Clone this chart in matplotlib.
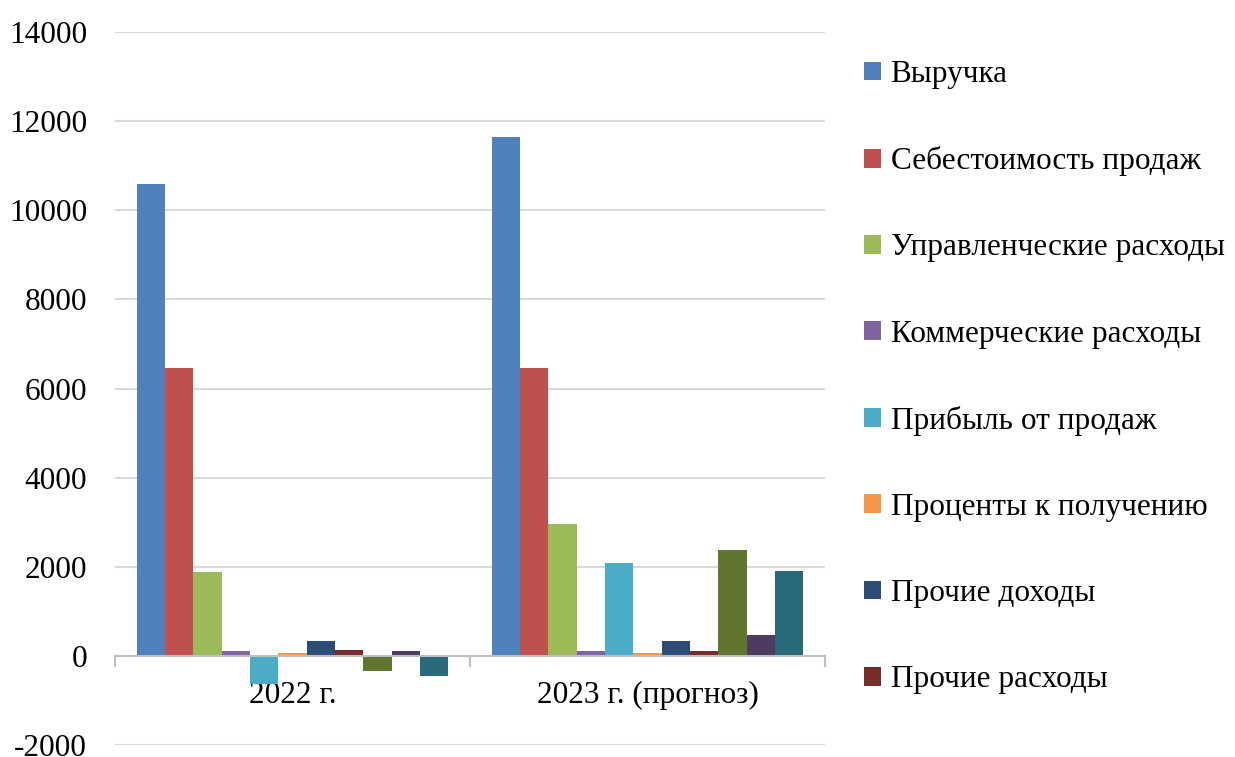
import numpy as np
import matplotlib.pyplot as plt
from matplotlib.patches import Patch

plt.rcParams['font.family'] = ['Liberation Serif', 'DejaVu Serif']
plt.rcParams['axes.unicode_minus'] = False

categories = ["2022 г.", "2023 г. (прогноз)"]
series_names = [
    "Выручка",
    "Себестоимость продаж",
    "Управленческие расходы",
    "Коммерческие расходы",
    "Прибыль от продаж",
    "Проценты к получению",
    "Прочие доходы",
    "Прочие расходы",
    "Прибыль до налогообложения",
    "Налог на прибыль",
    "Чистая прибыль",
]
values_2022 = [10600, 6450, 1880, 120, -620, 70, 340, 130, -330, 100, -450]
values_2023 = [11650, 6450, 2950, 100, 2090, 60, 330, 120, 2370, 460, 1900]
colors = ["#4F81BD", "#C0504D", "#9BBB59", "#8064A2", "#4BACC6", "#F79646",
          "#2C4D75", "#772C2A", "#5F7530", "#4D3B62", "#276A7C"]
legend_shown = 8  # only the first 8 series fit in the legend

W, H = 1235, 757
fig = plt.figure(figsize=(W / 100, H / 100), dpi=100)
ax = fig.add_axes([115 / W, 1 - 745 / H, 710 / W, 713 / H])

n = len(series_names)
gap = 1.55
bw = 1.0 / (n + gap)
x = np.arange(len(categories))
data = np.array([values_2022, values_2023])
for i in range(n):
    offs = (i - (n - 1) / 2) * bw
    ax.bar(x + offs, data[:, i], width=bw, color=colors[i], label=series_names[i], zorder=3)

ax.set_xlim(-0.5, len(categories) - 0.5)
ax.set_ylim(-2000, 14000)
ax.set_yticks(np.arange(-2000, 14001, 2000))
ax.yaxis.grid(True, color="#D9D9D9", linewidth=1.5, zorder=0)
ax.tick_params(axis='y', length=0, pad=20, labelsize=22.5)

for s in ['top', 'right', 'left']:
    ax.spines[s].set_visible(False)
ax.spines['bottom'].set_position(('data', 0))
ax.spines['bottom'].set_color("#BFBFBF")
ax.spines['bottom'].set_linewidth(1.5)
ax.spines['bottom'].set_zorder(4)

# category boundary ticks, labels at the centres
ax.set_xticks(np.arange(-0.5, len(categories), 1.0))
ax.set_xticklabels([])
ax.tick_params(axis='x', which='major', length=8, width=1.5, color="#BFBFBF", direction='out')
ax.set_xticks(x, minor=True)
ax.set_xticklabels(categories, minor=True)
ax.tick_params(axis='x', which='minor', length=0, pad=18, labelsize=22.5)

handles = [Patch(facecolor=colors[i], label=series_names[i]) for i in range(legend_shown)]
fig.legend(handles=handles, loc='upper left', bbox_to_anchor=(864 / W, 1 - 60 / H),
           frameon=False, fontsize=22.5, handlelength=0.55, handleheight=0.55,
           handletextpad=0.3, labelspacing=1.83, borderpad=0, borderaxespad=0)

fig.savefig("out.png", dpi=100)
